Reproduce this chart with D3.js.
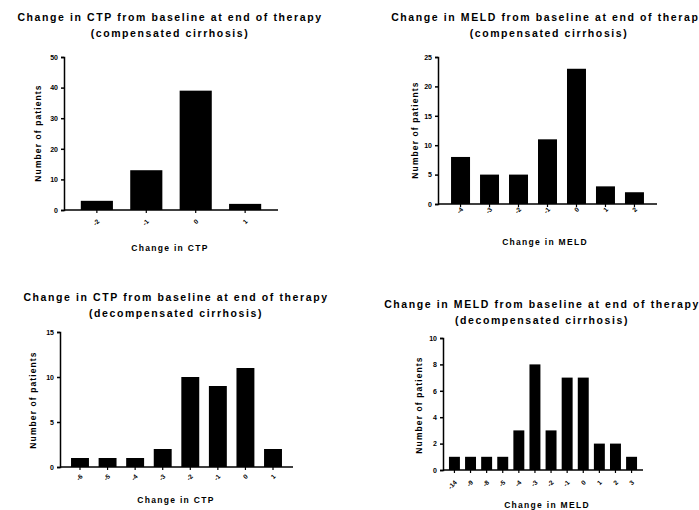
<!DOCTYPE html>
<html><head><meta charset="utf-8">
<script src="https://cdn.jsdelivr.net/npm/d3@7"></script>
<style>body{margin:0;background:#fff}svg{display:block}text{font-family:"Liberation Sans",Arial,sans-serif;font-weight:bold;fill:#000}</style>
</head><body>
<script>
// Data
const ctpCompCats = ["-2","-1","0","1"];
const ctpCompVals = [3,13,39,2];
const meldCompCats = ["-4","-3","-2","-1","0","1","2"];
const meldCompVals = [8,5,5,11,23,3,2];
const ctpDecompCats = ["-6","-5","-4","-3","-2","-1","0","1"];
const ctpDecompVals = [1,1,1,2,10,9,11,2];
const meldDecompCats = ["-14","-9","-8","-5","-4","-3","-2","-1","0","1","2","3"];
const meldDecompVals = [1,1,1,1,3,8,3,7,7,2,2,1];
const ticksCtpComp = [0,10,20,30,40,50];
const ticksMeldComp = [0,5,10,15,20,25];
const ticksCtpDecomp = [0,5,10,15];
const ticksMeldDecomp = [0,2,4,6,8,10];

const svg = d3.select("body").append("svg").attr("width",699).attr("height",510);

function panel(o){
  const g = svg.append("g");
  const x = d3.scaleBand().domain(o.cats).range([o.x0,o.x1]).paddingInner(o.pi).paddingOuter(o.po);
  const y = d3.scaleLinear().domain([0,o.ymax]).range([o.y0,o.y1]);
  g.selectAll("rect").data(o.vals).enter().append("rect")
    .attr("x",(d,i)=>x(o.cats[i])).attr("width",x.bandwidth())
    .attr("y",d=>y(d)).attr("height",d=>y(0)-y(d))
    .attr("fill","#000");
  const ya = g.append("g").attr("transform",`translate(${o.x0},0)`)
    .call(d3.axisLeft(y).tickValues(o.ticks).tickSize(3).tickPadding(3).tickFormat(d3.format("d")));
  ya.select(".domain").attr("stroke-width",1.5);
  ya.selectAll("line").attr("stroke-width",1.5);
  ya.selectAll("text").style("font-size","7px");
  const xa = g.append("g").attr("transform",`translate(0,${o.y0})`)
    .call(d3.axisBottom(x).tickSize(3).tickSizeOuter(0).tickPadding(0));
  xa.select(".domain").attr("stroke-width",1.5).attr("d",`M${o.x0},0H${o.x1}`);
  xa.selectAll("line").attr("stroke-width",1.2);
  xa.selectAll("text").style("font-size","6.5px").attr("text-anchor","end")
    .attr("dy",null).attr("y",null)
    .attr("transform",`translate(3,${o.tly-o.y0}) rotate(-45)`);
  // titles
  o.title.forEach((t,i)=>{
    g.append("text").attr("x",o.tx).attr("y",o.ty+i*16).attr("text-anchor","middle")
      .style("font-size","10.5px").style("letter-spacing","1.6px").text(t);
  });
  g.append("text").attr("x",o.xlx).attr("y",o.xly).attr("text-anchor","middle")
    .style("font-size","8.5px").style("letter-spacing","1.3px").text(o.xlab);
  g.append("text").attr("transform",`translate(${o.ylx},${o.yly}) rotate(-90)`).attr("text-anchor","middle")
    .style("font-size","8.5px").style("letter-spacing","1.1px").text("Number of patients");
}

panel({cats:ctpCompCats,vals:ctpCompVals,ticks:ticksCtpComp,ymax:50,x0:64,x1:278,pi:0.35,po:0.34,y0:210,y1:57,tly:222,
  title:["Change in CTP from baseline at end of therapy","(compensated cirrhosis)"],tx:170,ty:21,
  xlab:"Change in CTP",xlx:170,xly:251,ylx:41,yly:133});
panel({cats:meldCompCats,vals:meldCompVals,ticks:ticksMeldComp,ymax:25,x0:438,x1:657,pi:0.345,po:0.45,y0:204,y1:57,tly:210,
  title:["Change in MELD from baseline at end of therapy","(compensated cirrhosis)"],tx:549,ty:21,
  xlab:"Change in MELD",xlx:545,xly:245,ylx:418,yly:130});
panel({cats:ctpDecompCats,vals:ctpDecompVals,ticks:ticksCtpDecomp,ymax:15,x0:60,x1:293,pi:0.35,po:0.4,y0:467,y1:332,tly:477,
  title:["Change in CTP from baseline at end of therapy","(decompensated cirrhosis)"],tx:176,ty:301,
  xlab:"Change in CTP",xlx:176,xly:503,ylx:36,yly:400});
panel({cats:meldDecompCats,vals:meldDecompVals,ticks:ticksMeldDecomp,ymax:10,x0:443,x1:643,pi:0.32,po:0.37,y0:470,y1:338,tly:483,
  title:["Change in MELD from baseline at end of therapy","(decompensated cirrhosis)"],tx:542,ty:308,
  xlab:"Change in MELD",xlx:547,xly:508,ylx:422,yly:405});
</script>
</body></html>
